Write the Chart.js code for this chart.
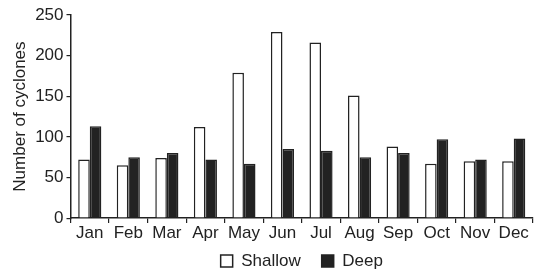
<!DOCTYPE html>
<html>
<head>
<meta charset="utf-8">
<script src="https://cdn.jsdelivr.net/npm/chart.js@4"></script>
<style>
html,body{margin:0;padding:0;background:#fff;}
#wrap{width:536px;height:269px;}
</style>
</head>
<body>
<div id="wrap"><canvas id="c" width="536" height="269"></canvas></div>
<script>
const categories = ["Jan","Feb","Mar","Apr","May","Jun","Jul","Aug","Sep","Oct","Nov","Dec"];
const shallow = [72, 65, 74, 112, 179, 229, 216, 151, 88, 67, 70, 70];
const deep = [113, 75, 80, 72, 67, 85, 83, 75, 80, 97, 72, 98];
const yTicks = [0, 50, 100, 150, 200, 250];

const font = "'Liberation Sans', Arial, sans-serif";
const legendOnPlot = {
  id: 'legendOnPlot',
  afterLayout(chart) {
    const lg = chart.legend;
    if (lg) {
      const h = lg.bottom - lg.top;
      lg.left = chart.chartArea.left;
      lg.right = chart.chartArea.right;
      lg.top = chart.chartArea.bottom + 13.5;
      lg.bottom = lg.top + h;
    }
  }
};
new Chart(document.getElementById('c'), {
  type: 'bar',
  data: {
    labels: categories,
    datasets: [
      {label: 'Shallow', data: shallow, backgroundColor: '#ffffff', borderColor: '#222', borderWidth: 1.5, categoryPercentage: 0.6, barPercentage: 1.0},
      {label: 'Deep', data: deep, backgroundColor: '#222', borderColor: '#222', borderWidth: 1.5, categoryPercentage: 0.6, barPercentage: 1.0}
    ]
  },
  plugins: [legendOnPlot],
  options: {
    responsive: false,
    animation: false,
    layout: {padding: {left: 0, right: 3, top: 15, bottom: -22.5}},
    plugins: {
      legend: {
        position: 'bottom',
        labels: {color: '#222', font: {family: font, size: 17}, boxWidth: 12, boxHeight: 12, padding: 21}
      },
      tooltip: {enabled: false}
    },
    scales: {
      x: {
        grid: {display: true, drawOnChartArea: false, drawTicks: true, tickLength: 5, color: '#222', lineWidth: 1.2, offset: true},
        border: {display: true, color: '#222', width: 1.5},
        ticks: {color: '#222', font: {family: font, size: 17}, padding: 0, maxRotation: 0, autoSkip: false}
      },
      y: {
        min: 0, max: 250,
        afterFit: (s) => { s.width = 70.5; },
        afterBuildTicks: (s) => { s.ticks = yTicks.map(v => ({value: v})); },
        grid: {display: true, drawOnChartArea: false, drawTicks: true, tickLength: 4, color: '#222', lineWidth: 1.2},
        border: {display: true, color: '#222', width: 1.5},
        ticks: {color: '#222', font: {family: font, size: 17}, padding: 3},
        title: {display: true, text: 'Number of cyclones', color: '#222', font: {family: font, size: 17}, padding: 10}
      }
    }
  }
});
</script>
</body>
</html>
